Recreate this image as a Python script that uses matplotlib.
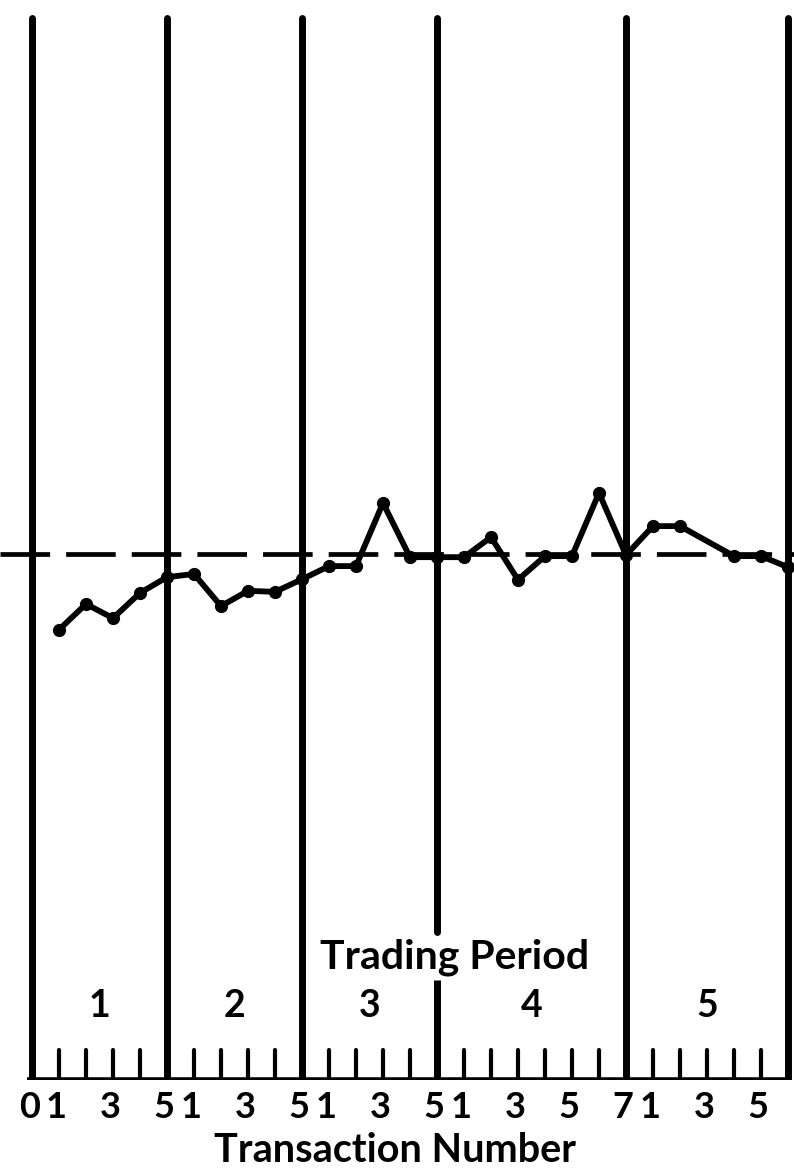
import matplotlib
matplotlib.use("Agg")
import matplotlib.pyplot as plt

# ---- data -------------------------------------------------------------
transactions = [1, 2, 3, 4, 5,
                6, 7, 8, 9, 10,
                11, 12, 13, 14, 15,
                16, 17, 18, 19, 20, 21, 22,
                23, 24, 26, 27, 28]
prices = [85.6, 90.5, 87.8, 92.6, 95.6,
          96.2, 90.1, 93.0, 92.8, 95.2,
          97.7, 97.7, 109.7, 99.4, 99.4,
          99.4, 103.2, 95.1, 99.6, 99.6, 111.6, 99.8,
          105.3, 105.3, 99.6, 99.6, 97.5]
equilibrium_price = 100.0

period_boundaries = [0, 5, 10, 15, 22, 28]
period_labels = ["1", "2", "3", "4", "5"]
tick_positions = [0, 1, 3, 5, 6, 8, 10, 11, 13, 15, 16, 18, 20, 22, 23, 25, 27]
tick_labels = ["0", "1", "3", "5", "1", "3", "5", "1", "3", "5",
               "1", "3", "5", "7", "1", "3", "5"]

# ---- figure -----------------------------------------------------------
W, H = 794, 1175
fig = plt.figure(figsize=(W / 100, H / 100), dpi=100)
px_unit = 27.0          # pixels per transaction
x0_px = 32.0            # pixel of transaction 0
base_px = 1080.0        # pixel row of baseline (from top)
py_unit = 5.26          # pixels per price unit

ax = fig.add_axes([0, (H - base_px) / H, 1, base_px / H])
ax.set_xlim(-x0_px / px_unit, (W - x0_px) / px_unit)
ax.set_ylim(0, base_px / py_unit)
ax.axis("off")

font = dict(family=["Lato", "DejaVu Sans"], fontweight="bold")
top_val = (base_px - 18) / py_unit
lw_v = 5.0

# vertical period lines
for b in period_boundaries:
    if b == 15:
        ax.plot([b, b], [(base_px - 932) / py_unit, top_val], color="black",
                lw=lw_v, solid_capstyle="round")
        ax.plot([b, b], [0, (base_px - 980) / py_unit], color="black",
                lw=lw_v, solid_capstyle="butt")
    else:
        ax.plot([b, b], [0, top_val], color="black", lw=lw_v,
                solid_capstyle="round")

# baseline
ax.plot([-0.2, 28.0], [0, 0], color="black", lw=4.0, solid_capstyle="butt")

# short tick marks
tick_h = 30 / py_unit
for t in range(1, 28):
    if t in period_boundaries:
        continue
    ax.plot([t, t], [0, tick_h], color="black", lw=3.0, solid_capstyle="round")

# equilibrium dashed line
ax.plot([-1.2, 28.3], [equilibrium_price, equilibrium_price], color="black",
        lw=3.4, dashes=(10.5, 3.4), dash_capstyle="butt")

# price path
ax.plot(transactions, prices, color="black", lw=4.2, marker="o",
        markersize=8.5, solid_joinstyle="round")

# tick labels
lab_y = -(1108 - base_px) / py_unit
for pos, lab in zip(tick_positions, tick_labels):
    ax.text(pos - 0.1, lab_y, lab, ha="center", va="center", fontsize=26,
            clip_on=False, **font)

ax.text(13.45, -(1151 - base_px) / py_unit, "Transaction Number",
        ha="center", va="center", fontsize=28.5, clip_on=False, **font)

# period labels
for i, lab in enumerate(period_labels):
    mid = (period_boundaries[i] + period_boundaries[i + 1]) / 2
    ax.text(mid, (base_px - 1006) / py_unit, lab, ha="center", va="center",
            fontsize=27, **font)

ax.text(15.65, (base_px - 957) / py_unit, "Trading Period", ha="center",
        va="center", fontsize=29.5, **font)

fig.savefig("out.png", dpi=100, facecolor="white")
